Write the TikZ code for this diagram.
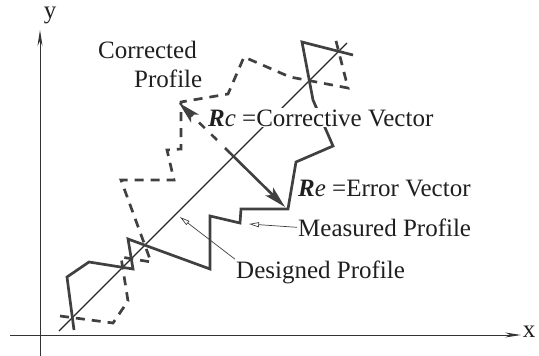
\documentclass[tikz,border=0pt]{standalone}
\usepackage{fontspec}
\setmainfont{Liberation Serif}
\usetikzlibrary{arrows.meta}
\begin{document}
\begin{tikzpicture}[x=1pt,y=-1pt,
  every node/.style={font=\fontsize{25}{29}\selectfont, text=black!88, inner sep=1pt},
  axis/.style={draw=black!80, line width=0.9pt, -{Stealth[length=16pt,width=5pt]}},
  designline/.style={draw=black!85, line width=1.1pt},
  prof/.style={draw=black!75, line width=2.7pt, line join=miter},
  corr/.style={prof, dash pattern=on 9pt off 7pt},
  vec/.style={draw=black!75, line width=2.6pt, -{Stealth[length=22pt,width=11pt,inset=5pt]}},
  leader/.style={draw=black!75, line width=0.7pt, -{Triangle[open,length=10pt,width=5pt]}}
]
\useasboundingbox (0,0) rectangle (539,356);
% axes
\coordinate (yb) at (40,356);
\coordinate (yt) at (40,30);
\coordinate (xl) at (10,335);
\coordinate (xr) at (521,335);
\draw[axis] (yb) -- (yt);
\draw[axis] (xl) -- (xr);
\node[anchor=base] (ylab) at (50,19) {y};
\node[anchor=base] (xlab) at (529,337) {x};
% designed profile
\coordinate (d1) at (59,331);
\coordinate (d2) at (347,43);
\draw[designline] (d1) -- (d2);
% measured profile
\draw[prof] (74,330) -- (67,277) -- (89,262) -- (133,269) -- (128,239) -- (210,269)
  -- (210,216) -- (240,223) -- (241,209) -- (288,209) -- (296,162) -- (333,146)
  -- (313,100) -- (302,42) -- (353,55);
% corrected profile
\draw[corr] (60,316) -- (113,323) -- (128,301) -- (121,257) -- (151,262) -- (121,180)
  -- (174,180) -- (167,150) -- (181,149) -- (181,102) -- (228,94) -- (244,57)
  -- (290,77) -- (348,88) -- (335,37);
% labels
\node[anchor=base west] (cp1) at (97,58) {Corrected};
\node[anchor=base west] (cp2) at (133,87) {Profile};
\node[anchor=base west, fill=white] (rcl) at (207,126) {\textbf{\textit{R}}\textit{c} =Corrective Vector};
\node[anchor=base west] (rel) at (297,196) {\textbf{\textit{R}}\textit{e} =Error Vector};
\node[anchor=base west] (mp) at (297,236) {Measured Profile};
\node[anchor=base west] (dp) at (235,278) {Designed Profile};
% vectors
\coordinate (vo) at (225,148);
\coordinate (vs) at (217,140);
\coordinate (rc) at (179,103);
\coordinate (re) at (285,207);
\draw[vec] (vo) -- (re);
\draw[vec, dash pattern=on 8pt off 9pt] (vs) -- (rc);
% leaders
\coordinate (mt) at (249,224);
\coordinate (dt) at (180,217);
\draw[leader] (mp.west) -- (mt);
\draw[leader] (dp.north west) -- (dt);
\end{tikzpicture}
\end{document}
